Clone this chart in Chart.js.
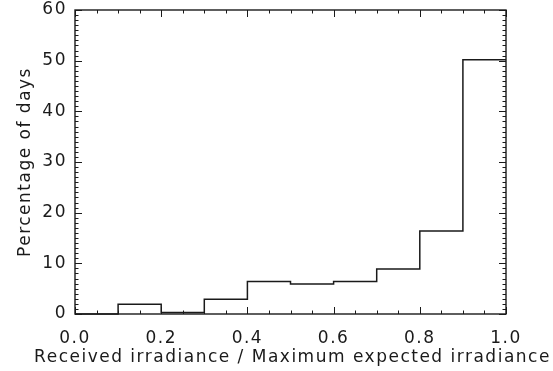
<!DOCTYPE html>
<html>
<head>
<meta charset="utf-8">
<script src="https://cdn.jsdelivr.net/npm/chart.js@4.4.1/dist/chart.umd.min.js"></script>
<style>
  html, body { margin: 0; padding: 0; background: #fff; }
  #wrap { width: 553px; height: 371px; }
</style>
</head>
<body>
<div id="wrap"><canvas id="hist"></canvas></div>
<script>
// histogram bins (left edges) and heights
const binEdges = [0.0, 0.1, 0.2, 0.3, 0.4, 0.5, 0.6, 0.7, 0.8, 0.9, 1.0];
const percentDays = [0.0, 1.9, 0.3, 2.9, 6.4, 5.9, 6.4, 8.9, 16.4, 50.2];
const xTickValues = [0.0, 0.2, 0.4, 0.6, 0.8, 1.0];
const yTickValues = [0, 10, 20, 30, 40, 50, 60];
const xTitle = 'Received irradiance / Maximum expected irradiance';
const yTitle = 'Percentage of days';

const ink = '#1a1a1a';
const font = { family: 'DejaVu Sans', size: 17, weight: 'normal' };

// step points: each bin value held from its left edge, last edge repeats last value
const stepPoints = binEdges.map((e, i) => ({
    x: e,
    y: i < percentDays.length ? percentDays[i] : percentDays[percentDays.length - 1]
}));

// wide Hershey-like text: canvas state is reset on resize, so set it again each pass
function spread(chart) { chart.ctx.letterSpacing = '1.5px'; }

// IDL style box with inward ticks on all four sides
const boxTicks = {
    id: 'boxTicks',
    beforeUpdate: spread,
    beforeLayout: spread,
    beforeDraw: spread,
    afterDraw(chart) {
        const { ctx, chartArea: a } = chart;
        const xs = chart.scales.x, ys = chart.scales.y;
        ctx.save();
        ctx.strokeStyle = ink;
        ctx.lineWidth = 1.4;
        ctx.strokeRect(a.left, a.top, a.right - a.left, a.bottom - a.top);
        ctx.lineWidth = 1;
        ctx.beginPath();
        for (let i = 0; i <= 20; i++) {
            const v = i * 0.05;
            const px = Math.round(xs.getPixelForValue(v)) + 0.5;
            const len = (i % 4 === 0) ? 7 : 3.5;
            ctx.moveTo(px, a.bottom); ctx.lineTo(px, a.bottom - len);
            ctx.moveTo(px, a.top); ctx.lineTo(px, a.top + len);
        }
        for (let v = 0; v <= 60; v++) {
            const py = Math.round(ys.getPixelForValue(v)) + 0.5;
            const len = (v % 10 === 0) ? 7 : 3.5;
            ctx.moveTo(a.left, py); ctx.lineTo(a.left + len, py);
            ctx.moveTo(a.right, py); ctx.lineTo(a.right - len, py);
        }
        ctx.stroke();

        // x title is wider than the plot, Chart.js would squeeze it, so draw it here
        ctx.fillStyle = ink;
        ctx.font = `${font.size}px "${font.family}"`;
        ctx.letterSpacing = '1.5px';
        ctx.textAlign = 'center';
        ctx.textBaseline = 'middle';
        ctx.fillText(xTitle, (a.left + a.right) / 2 + 2, 358);
        ctx.restore();
    }
};

new Chart(document.getElementById('hist'), {
    type: 'line',
    data: {
        datasets: [{
            data: stepPoints,
            stepped: true,
            borderColor: ink,
            borderWidth: 1.5,
            pointRadius: 0,
            fill: false,
            clip: false
        }]
    },
    options: {
        responsive: true,
        maintainAspectRatio: false,
        animation: false,
        layout: { padding: { top: 0, right: 47, left: 0, bottom: 0 } },
        plugins: { legend: { display: false }, tooltip: { enabled: false } },
        scales: {
            x: {
                type: 'linear',
                min: 0, max: 1,
                afterBuildTicks: s => { s.ticks = xTickValues.map(v => ({ value: v })); },
                afterFit: s => { s.height = 57; s.paddingLeft = 0; s.paddingRight = 0; },
                grid: { display: false, drawTicks: false },
                border: { display: false },
                ticks: {
                    color: ink, font, padding: 14, maxRotation: 0,
                    callback: v => Number(v).toFixed(1)
                },
                title: { display: false }
            },
            y: {
                type: 'linear',
                min: 0, max: 60,
                afterBuildTicks: s => { s.ticks = yTickValues.map(v => ({ value: v })); },
                afterFit: s => { s.width = 75; s.paddingTop = 10; s.paddingBottom = 0; },
                grid: { display: false, drawTicks: false },
                border: { display: false },
                ticks: { color: ink, font, padding: 8 },
                title: { display: true, text: yTitle, color: ink, font, padding: { top: 15, bottom: 0 } }
            }
        }
    },
    plugins: [boxTicks]
});
</script>
</body>
</html>
